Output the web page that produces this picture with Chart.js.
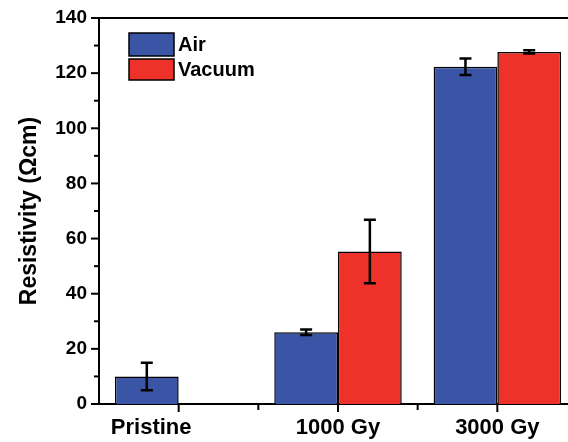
<!DOCTYPE html>
<html>
<head>
<meta charset="utf-8">
<script src="https://cdn.jsdelivr.net/npm/chart.js@4.4.1/dist/chart.umd.min.js"></script>
<style>
html,body{margin:0;padding:0;background:#fff;overflow:hidden;width:568px;height:442px;}
canvas{display:block;}
</style>
</head>
<body>
<canvas id="c" width="580" height="442" style="width:580px;height:442px"></canvas>
<script>
const categories = ['Pristine', '1000 Gy', '3000 Gy'];
const seriesNames = ['Air', 'Vacuum'];
const airValues = [10, 26, 122.3];
const airErrors = [5, 1, 3];
const vacuumValues = [null, 55.3, 127.7];
const vacuumErrors = [null, 11.5, 0.6];
const yMin = 0, yMax = 140, yStep = 20, yMinorStep = 10;

const BLUE = '#3a54a6';
const RED = '#ee3229';
const FONT = '"Liberation Sans", Arial, sans-serif';

const framePlugin = {
  id: 'frame',
  afterDraw(chart) {
    const ctx = chart.ctx, a = chart.chartArea;
    const y = chart.scales.y, x = chart.scales.x;
    ctx.save();
    ctx.strokeStyle = '#000';
    ctx.lineWidth = 2;
    ctx.beginPath();
    ctx.moveTo(a.left - 1, a.top);
    ctx.lineTo(chart.width, a.top);
    ctx.stroke();
    for (let v = yMin; v <= yMax + 1e-9; v += yMinorStep) {
      const py = y.getPixelForValue(v);
      const major = Math.abs(v % yStep) < 1e-9;
      ctx.beginPath();
      ctx.moveTo(a.left, py);
      ctx.lineTo(a.left - (major ? 8 : 5), py);
      ctx.stroke();
    }
    const n = categories.length;
    for (let i = 0; i < n; i++) {
      const px = x.getPixelForValue(i);
      ctx.beginPath();
      ctx.moveTo(px, a.bottom);
      ctx.lineTo(px, a.bottom + 8);
      ctx.stroke();
      if (i < n - 1) {
        const pm = (px + x.getPixelForValue(i + 1)) / 2;
        ctx.beginPath();
        ctx.moveTo(pm, a.bottom);
        ctx.lineTo(pm, a.bottom + 6);
        ctx.stroke();
      }
    }
    const colors = [BLUE, RED];
    const boxes = [[129, 33, 45, 23], [129, 59, 45, 21]];
    ctx.font = 'bold 20px ' + FONT;
    ctx.textBaseline = 'middle';
    ctx.textAlign = 'left';
    for (let i = 0; i < 2; i++) {
      const [bx, by, bw, bh] = boxes[i];
      ctx.fillStyle = colors[i];
      ctx.fillRect(bx, by, bw, bh);
      ctx.lineWidth = 1.5;
      ctx.strokeStyle = '#000';
      ctx.strokeRect(bx, by, bw, bh);
      ctx.fillStyle = '#000';
      ctx.fillText(chart.data.datasets[i].label, bx + bw + 4, by + bh / 2 + 1);
    }
    ctx.restore();
  }
};

const errorBarPlugin = {
  id: 'errorBars',
  afterDatasetsDraw(chart) {
    const ctx = chart.ctx, y = chart.scales.y;
    const errs = [airErrors, vacuumErrors];
    ctx.save();
    ctx.strokeStyle = '#000';
    ctx.lineWidth = 2.5;
    chart.data.datasets.forEach((ds, di) => {
      const meta = chart.getDatasetMeta(di);
      meta.data.forEach((el, i) => {
        const v = ds.data[i], e = errs[di][i];
        if (v == null || e == null) return;
        const px = el.x;
        const top = y.getPixelForValue(v + e);
        const bot = y.getPixelForValue(v - e);
        const cap = 6;
        ctx.beginPath();
        ctx.moveTo(px, top); ctx.lineTo(px, bot);
        ctx.moveTo(px - cap, top); ctx.lineTo(px + cap, top);
        ctx.moveTo(px - cap, bot); ctx.lineTo(px + cap, bot);
        ctx.stroke();
      });
    });
    ctx.restore();
  }
};

new Chart(document.getElementById('c'), {
  type: 'bar',
  data: {
    labels: categories,
    datasets: [
      { label: seriesNames[0], data: airValues, backgroundColor: BLUE, borderColor: '#000', borderWidth: 1.5,
        categoryPercentage: 0.8, barPercentage: 1.0 },
      { label: seriesNames[1], data: vacuumValues, backgroundColor: RED, borderColor: '#000', borderWidth: 1.5,
        categoryPercentage: 0.8, barPercentage: 1.0 }
    ]
  },
  options: {
    responsive: false,
    animation: false,
    devicePixelRatio: 1,
    layout: { padding: { top: 18, right: 3, left: 0, bottom: 0 } },
    plugins: { legend: { display: false }, tooltip: { enabled: false }, title: { display: false } },
    scales: {
      x: {
        offset: true,
        grid: { display: false, drawTicks: false },
        border: { display: true, color: '#000', width: 2 },
        ticks: {
          color: '#000', font: { family: FONT, size: 22, weight: 'bold' }, padding: 11, maxRotation: 0, autoSkip: false,
          callback: (v, i) => i === 0 ? categories[i] + '\u2002'.repeat(5) : categories[i]
        },
        afterFit(s) { s.height = 38; s.paddingLeft = 0; s.paddingRight = 0; }
      },
      y: {
        min: yMin, max: yMax,
        grid: { display: false, drawTicks: false },
        border: { display: true, color: '#000', width: 2 },
        ticks: { stepSize: yStep, color: '#000', font: { family: FONT, size: 19, weight: 'bold' }, padding: 12 },
        title: { display: true, text: 'Resistivity (\u03A9cm)', color: '#000', font: { family: FONT, size: 23, weight: 'bold' }, padding: { top: 16, bottom: 0 } },
        afterFit(s) { s.width = 99; s.paddingTop = 0; s.paddingBottom = 0; }
      }
    }
  },
  plugins: [errorBarPlugin, framePlugin]
});
</script>
</body>
</html>
